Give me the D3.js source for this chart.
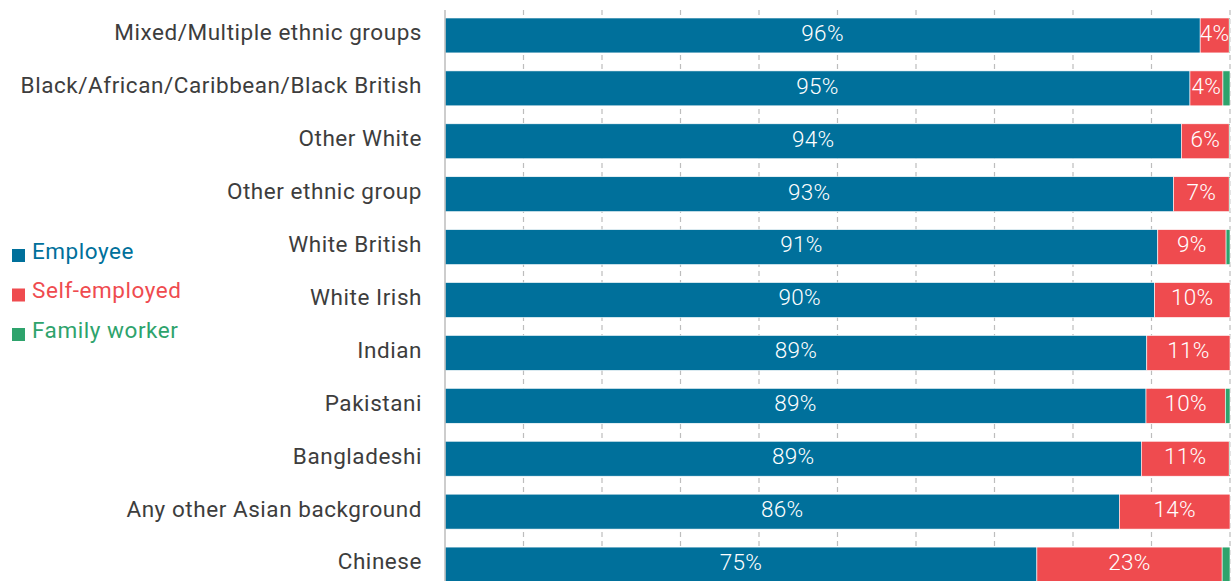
<!DOCTYPE html>
<html lang="en">
<head>
    <meta charset="UTF-8">
    <title>Employment type by ethnic group</title>
    <script src="https://d3js.org/d3.v7.min.js"></script>
    <style>
        body { margin: 0; background: white; }
        svg { display: block; }
        .cat text { font-family: Roboto, sans-serif; font-size: 22.5px; letter-spacing: 0.55px; fill: #3d3d3d; }
        .value { font-family: Roboto, sans-serif; font-weight: 300; font-size: 22.5px; letter-spacing: 0.3px; fill: white; }
        .legend text { font-family: Roboto, sans-serif; font-size: 22.5px; letter-spacing: 0.55px; }
    </style>
</head>
<body>
    <script>
        const categories = [
            'Mixed/Multiple ethnic groups',
            'Black/African/Caribbean/Black British',
            'Other White',
            'Other ethnic group',
            'White British',
            'White Irish',
            'Indian',
            'Pakistani',
            'Bangladeshi',
            'Any other Asian background',
            'Chinese'
        ];
        const employee     = [96.2, 94.9, 93.8, 92.8, 90.8, 90.4, 89.4, 89.3, 88.7, 85.9, 75.4];
        const selfEmployed = [3.7, 4.2, 6.1, 7.1, 8.7, 9.6, 10.6, 10.1, 11.2, 14.1, 23.6];
        const familyWorker = [0.1, 0.9, 0.1, 0.1, 0.5, 0, 0, 0.6, 0.1, 0, 1.0];
        const employeeLabels = ['96%', '95%', '94%', '93%', '91%', '90%', '89%', '89%', '89%', '86%', '75%'];
        const selfLabels     = ['4%', '4%', '6%', '7%', '9%', '10%', '11%', '10%', '11%', '14%', '23%'];
        const seriesNames = ['Employee', 'Self-employed', 'Family worker'];
        const colours = ['#00709b', '#ef4b4f', '#2ea36c'];
        const xTicks = [0, 10, 20, 30, 40, 50, 60, 70, 80, 90, 100];

        const width = 1231;
        const height = 581;

        const svg = d3.select('body')
                      .append('svg')
                      .attr('width', width)
                      .attr('height', height);

        const xScale = d3.scaleLinear()
                         .domain([0, 100])
                         .range([445, 1230]);

        const yScale = d3.scaleBand()
                         .domain(categories)
                         .range([9, 591])
                         .paddingInner(0.34)
                         .paddingOuter(0.17);

        // dashed gridlines behind the bars
        svg.append('g')
           .selectAll('line')
           .data(xTicks.slice(1))
           .join('line')
           .attr('x1', d => xScale(d))
           .attr('x2', d => xScale(d))
           .attr('y1', 10)
           .attr('y2', height)
           .attr('stroke', '#bdbdbd')
           .attr('stroke-width', 1.2)
           .attr('stroke-dasharray', '5,4');

        const rows = categories.map((c, i) => ({
            cat: c,
            vals: [employee[i], selfEmployed[i], familyWorker[i]]
        }));

        const stack = d3.stack()
                        .keys([0, 1, 2])
                        .value((d, k) => d.vals[k]);
        const series = stack(rows);

        svg.append('g')
           .selectAll('g')
           .data(series)
           .join('g')
           .attr('fill', (d, i) => colours[i])
           .selectAll('rect')
           .data(d => d)
           .join('rect')
           .attr('x', d => xScale(d[0]))
           .attr('y', d => yScale(d.data.cat))
           .attr('width', d => Math.max(0, xScale(d[1]) - xScale(d[0])))
           .attr('height', yScale.bandwidth())
           .attr('stroke', 'white')
           .attr('stroke-width', 0.6);

        // value labels
        const labelSets = [employeeLabels, selfLabels];
        labelSets.forEach((labels, k) => {
            svg.append('g')
               .selectAll('text')
               .data(series[k])
               .join('text')
               .attr('class', 'value')
               .attr('x', d => (xScale(d[0]) + xScale(d[1])) / 2)
               .attr('y', d => yScale(d.data.cat) + yScale.bandwidth() / 2 - 2.5)
               .attr('dy', '0.35em')
               .attr('text-anchor', 'middle')
               .text((d, i) => labels[i]);
        });

        // axis line
        svg.append('line')
           .attr('x1', xScale(0))
           .attr('x2', xScale(0))
           .attr('y1', 10)
           .attr('y2', height)
           .attr('stroke', '#bdbdbd')
           .attr('stroke-width', 1.5);

        // category labels
        svg.append('g')
           .attr('class', 'cat')
           .selectAll('text')
           .data(categories)
           .join('text')
           .attr('x', 422)
           .attr('y', d => yScale(d) + yScale.bandwidth() / 2 - 3)
           .attr('dy', '0.35em')
           .attr('text-anchor', 'end')
           .text(d => d);

        // legend
        const legend = svg.append('g')
                          .attr('class', 'legend')
                          .attr('transform', 'translate(12, 251)');
        const item = legend.selectAll('g')
                           .data(seriesNames)
                           .join('g')
                           .attr('transform', (d, i) => `translate(0, ${i * 39.5})`);
        item.append('rect')
            .attr('x', 0)
            .attr('y', -2)
            .attr('width', 13)
            .attr('height', 13)
            .attr('fill', (d, i) => colours[i]);
        item.append('text')
            .attr('x', 20)
            .attr('y', 0)
            .attr('dy', '0.35em')
            .attr('fill', (d, i) => colours[i])
            .text(d => d);
    </script>
</body>
</html>
